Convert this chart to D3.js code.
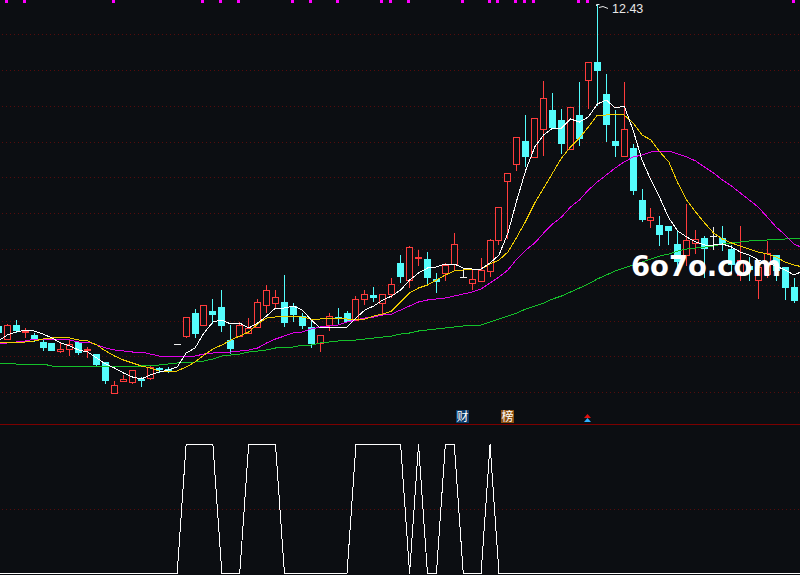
<!DOCTYPE html>
<html lang="en">
<head>
  <meta charset="UTF-8" />
  <title>K-line chart</title>
  <style>
    html, body { margin:0; background:#0c0e12; overflow:hidden; }
    svg { display:block; }
    .ma, .signal { fill:none; shape-rendering:crispEdges; }
  </style>
</head>
<body>
  <svg id="chart" width="800" height="575"></svg>

  <script src="https://d3js.org/d3.v7.min.js"></script>
  <script>
  // candles, index -1 is the one cut off at the left edge
  const opens = [9.21,9.08,9.22,9.15,9.12,9.05,9.04,8.96,8.98,9.05,8.97,8.93,8.85,8.54,8.66,8.65,8.68,8.69,8.79,8.78,9.03,9.11,9.34,9.22,9.36,9.40,9.07,9.11,9.14,9.20,9.42,9.44,9.45,9.41,9.31,9.20,9.04,9.22,9.30,9.34,9.27,9.48,9.52,9.44,9.53,9.84,9.67,9.89,9.88,9.68,9.74,9.83,9.70,9.64,9.66,9.76,10.07,10.66,10.83,11.06,10.90,11.18,11.37,11.27,10.98,11.32,11.67,11.85,11.53,11.06,10.91,10.99,10.47,10.27,10.22,10.21,10.03,9.92,10.04,10.09,10.11,10.09,9.98,9.72,9.81,9.67,9.73,9.92,9.80,9.60];
  const closes = [9.15,9.22,9.17,9.16,9.08,9.00,8.97,8.98,9.03,8.95,8.98,8.83,8.67,8.62,8.68,8.77,8.67,8.80,8.78,8.77,9.03,9.30,9.14,9.42,9.33,9.22,8.99,9.22,9.19,9.45,9.57,9.50,9.25,9.33,9.22,9.04,9.12,9.31,9.29,9.26,9.48,9.53,9.50,9.53,9.63,9.71,10.00,9.90,9.70,9.66,9.82,10.03,9.70,9.68,9.77,10.07,10.40,10.74,11.10,10.91,11.29,11.49,11.20,11.04,11.40,11.09,11.85,11.77,11.23,11.02,11.18,10.57,10.28,10.30,10.13,10.17,9.86,10.07,10.08,9.99,10.11,10.04,9.83,9.87,9.78,9.80,9.94,9.77,9.60,9.47];
  const highs = [9.21,9.23,9.27,9.19,9.14,9.08,9.04,9.04,9.07,9.05,9.00,8.93,8.85,8.66,8.72,8.77,8.70,8.81,8.80,8.80,9.03,9.30,9.38,9.42,9.48,9.57,9.22,9.25,9.29,9.48,9.62,9.57,9.72,9.44,9.34,9.27,9.12,9.34,9.39,9.36,9.51,9.57,9.60,9.53,9.69,9.92,10.01,9.97,9.95,9.74,9.84,10.14,9.78,9.78,9.89,10.08,10.40,10.74,11.10,11.32,11.29,11.66,11.54,11.38,11.40,11.65,11.85,12.43,11.73,11.37,11.65,11.03,10.58,10.39,10.31,10.21,10.17,10.43,10.17,10.11,10.20,10.21,10.02,10.21,9.90,9.80,10.06,9.92,9.80,9.69];
  const lows = [9.15,9.08,9.15,9.10,9.06,8.97,8.97,8.95,8.92,8.93,8.90,8.81,8.64,8.54,8.66,8.64,8.61,8.68,8.75,8.75,9.03,9.10,9.10,9.22,9.24,9.16,8.94,9.11,9.14,9.20,9.35,9.40,9.21,9.26,9.19,9.00,8.96,9.17,9.24,9.26,9.27,9.43,9.46,9.32,9.50,9.65,9.60,9.82,9.64,9.55,9.67,9.78,9.70,9.58,9.66,9.71,10.03,10.09,10.77,10.81,10.90,10.92,11.20,10.94,10.98,11.02,11.39,11.42,11.06,10.91,10.91,10.53,10.26,10.20,10.02,10.03,9.79,9.82,9.94,9.70,9.98,9.97,9.74,9.67,9.67,9.49,9.70,9.67,9.48,9.45];

  // moving averages, one more value than candles (last point is past the right edge)
  const ma5 = [9.06,9.12,9.15,9.17,9.16,9.13,9.09,9.04,9.01,8.97,8.95,8.89,8.83,8.79,8.74,8.70,8.68,8.72,8.75,8.77,8.80,8.94,8.99,9.14,9.25,9.27,9.23,9.24,9.19,9.24,9.31,9.39,9.39,9.41,9.37,9.27,9.19,9.20,9.20,9.20,9.29,9.37,9.41,9.47,9.51,9.57,9.67,9.74,9.79,9.80,9.83,9.83,9.79,9.78,9.78,9.84,9.92,10.14,10.47,10.77,11.00,11.12,11.19,11.19,11.28,11.25,11.30,11.43,11.47,11.39,11.41,11.17,10.87,10.67,10.49,10.29,10.16,10.10,10.05,10.02,10.02,10.03,10.00,9.95,9.92,9.87,9.84,9.81,9.77,9.72,9.76];
  const ma10 = [9.04,9.05,9.05,9.05,9.06,9.08,9.09,9.10,9.09,9.07,9.06,9.02,8.96,8.91,8.87,8.84,8.81,8.79,8.76,8.76,8.76,8.80,8.85,8.92,8.98,9.02,9.07,9.11,9.15,9.23,9.29,9.30,9.31,9.31,9.30,9.28,9.28,9.29,9.29,9.28,9.27,9.28,9.31,9.33,9.36,9.45,9.54,9.59,9.62,9.67,9.72,9.76,9.77,9.78,9.78,9.83,9.87,9.95,10.10,10.26,10.44,10.59,10.74,10.89,11.00,11.09,11.20,11.32,11.32,11.33,11.32,11.24,11.12,11.07,10.95,10.85,10.64,10.47,10.35,10.24,10.14,10.08,10.04,10.01,9.98,9.95,9.93,9.90,9.85,9.82,9.80];
  const ma30 = [9.03,9.04,9.05,9.06,9.08,9.08,9.08,9.08,9.07,9.05,9.05,9.02,8.99,8.97,8.96,8.95,8.95,8.93,8.91,8.91,8.91,8.91,8.91,8.93,8.94,8.95,8.95,8.96,8.97,8.99,9.04,9.08,9.11,9.14,9.15,9.18,9.20,9.21,9.22,9.25,9.27,9.29,9.30,9.32,9.33,9.37,9.41,9.45,9.47,9.48,9.49,9.51,9.53,9.55,9.58,9.64,9.70,9.77,9.88,9.97,10.04,10.14,10.23,10.30,10.40,10.47,10.57,10.65,10.72,10.79,10.85,10.90,10.92,10.95,10.96,10.96,10.93,10.90,10.86,10.80,10.74,10.67,10.61,10.54,10.47,10.40,10.30,10.20,10.12,10.03,9.99];
  const ma60 = [8.84,8.84,8.83,8.83,8.83,8.83,8.81,8.81,8.81,8.81,8.81,8.81,8.81,8.81,8.81,8.81,8.81,8.82,8.82,8.83,8.84,8.85,8.85,8.86,8.88,8.91,8.92,8.93,8.95,8.96,8.97,8.99,9.00,9.00,9.02,9.02,9.04,9.05,9.06,9.07,9.07,9.08,9.09,9.10,9.11,9.13,9.14,9.16,9.17,9.18,9.19,9.20,9.21,9.22,9.22,9.25,9.28,9.31,9.34,9.38,9.41,9.44,9.48,9.51,9.55,9.59,9.63,9.68,9.72,9.76,9.79,9.82,9.85,9.88,9.91,9.93,9.96,9.98,9.99,10.00,10.01,10.03,10.04,10.05,10.06,10.07,10.07,10.08,10.08,10.09,10.09];

  const gridPrices = [12.13,11.77,11.41,11.05,10.70,10.34,9.98,9.62,9.26,8.91,8.55];
  const topMarks = [0,2,12,22,24,26,32,34,37,42,43,45,51,54,55,57,58,59,64,65,88]; // magenta ticks along the top
  const signalOn = [20,21,22,23,27,28,29,30,39,40,41,42,43,44,46,49,50,54]; // lower pane is 1 on these candles

  const maxPrice = "12.43";
  const maxIndex = 66;

  const W = 800, H = 575;
  const C_BG = "#0c0e12", C_UP = "#ff3c3c", C_DOWN = "#54fcfc", C_GRID = "#560c0c";

  const svg = d3.select("#chart");
  const x = d3.scaleLinear().domain([0, 88]).range([7.3, 794]);
  const y = d3.scaleLinear().domain([12.47, 8.23]).range([0, 424]);
  const ySig = d3.scaleLinear().domain([0, 1]).range([573.5, 444.5]);
  const px = i => Math.floor(x(i));
  const py = v => Math.round(y(v));

  svg.append("rect").attr("width", W).attr("height", H).attr("fill", C_BG);

  // dotted price grid
  svg.append("g").selectAll("line").data(gridPrices).join("line")
    .attr("x1", 2).attr("x2", W)
    .attr("y1", d => py(d) + 0.5).attr("y2", d => py(d) + 0.5)
    .attr("stroke", C_GRID).attr("stroke-dasharray", "1 3");

  // pane separator + lower pane grid
  svg.append("line").attr("x1", 0).attr("x2", W).attr("y1", 424.5).attr("y2", 424.5)
    .attr("stroke", "#7c0000");
  svg.append("line").attr("x1", 2).attr("x2", W).attr("y1", 509.5).attr("y2", 509.5)
    .attr("stroke", C_GRID).attr("stroke-dasharray", "1 3");

  // top signal ticks
  svg.append("g").selectAll("rect").data(topMarks).join("rect")
    .attr("x", d => px(d) - 2).attr("y", 0).attr("width", 3).attr("height", 3)
    .attr("fill", "#ff00ff");

  // candles
  const candles = d3.range(opens.length).map(k => ({
    i: k - 1, o: opens[k], c: closes[k], h: highs[k], l: lows[k]
  }));
  const colorOf = d => d.c > d.o ? C_UP : d.c < d.o ? C_DOWN : "#f0f0f0";

  const gc = svg.append("g").attr("shape-rendering", "crispEdges");
  gc.selectAll("line.wick").data(candles).join("line").attr("class", "wick")
    .attr("x1", d => px(d.i) + 0.5).attr("x2", d => px(d.i) + 0.5)
    .attr("y1", d => py(d.h)).attr("y2", d => py(d.l) + 1)
    .attr("stroke", colorOf);
  gc.selectAll("rect.body").data(candles.filter(d => d.c !== d.o)).join("rect").attr("class", "body")
    .attr("x", d => px(d.i) - 2.5)
    .attr("y", d => py(Math.max(d.o, d.c)) + 0.5)
    .attr("width", 6)
    .attr("height", d => Math.max(1, py(Math.min(d.o, d.c)) - py(Math.max(d.o, d.c))))
    .attr("fill", d => d.c > d.o ? C_BG : C_DOWN)
    .attr("stroke", colorOf);
  gc.selectAll("line.flat").data(candles.filter(d => d.c === d.o)).join("line").attr("class", "flat")
    .attr("x1", d => px(d.i) - 3).attr("x2", d => px(d.i) + 4)
    .attr("y1", d => py(d.o) + 0.5).attr("y2", d => py(d.o) + 0.5)
    .attr("stroke", colorOf);

  // moving averages
  const maLine = d3.line().x((d, k) => x(k - 1)).y(d => y(d));
  [[ma60, "#14c02a"], [ma30, "#e000e8"], [ma10, "#f0cc00"], [ma5, "#ffffff"]].forEach(([vals, col]) => {
    svg.append("path").attr("class", "ma").attr("d", maLine(vals)).attr("stroke", col);
  });

  // peak flag
  const peakX = px(maxIndex), peakY = py(12.43);
  svg.append("path").attr("fill", "none").attr("stroke", "#e8e8e8")
    .attr("d", `M${peakX - 0.5},${peakY + 2}V${peakY + 0.5}H${peakX + 2.5}M${peakX + 2},${peakY + 3.5}L${peakX + 6},${peakY + 2.5}L${peakX + 11},${peakY + 4.5}`);
  svg.append("text").attr("x", peakX + 15).attr("y", 13)
    .attr("font-family", "'Liberation Sans', sans-serif").attr("font-size", 12.5)
    .attr("fill", "#e8e8e8").text(maxPrice);

  // event badges
  const badges = [{ x: 456, bg: "#0b3a6a", t: "财" }, { x: 501, bg: "#8a4e10", t: "榜" }];
  badges.forEach(b => {
    svg.append("rect").attr("x", b.x).attr("y", 410).attr("width", 13).attr("height", 13).attr("fill", b.bg);
    svg.append("text").attr("x", b.x + 6.5).attr("y", 421).attr("text-anchor", "middle")
      .attr("font-family", "'Noto Sans CJK SC', sans-serif").attr("font-size", 12)
      .attr("fill", "#ffffff").text(b.t);
  });
  svg.append("path").attr("d", "M584,418L587.5,414L591,418Z").attr("fill", "#e01010");
  svg.append("path").attr("d", "M584,422L587.5,418L591,422Z").attr("fill", "#30b0ff");

  // lower pane on/off line
  const sigVals = d3.range(-1, 90).map(i => signalOn.includes(i) ? 1 : 0);
  const sigLine = d3.line().x((d, k) => x(k - 1)).y(d => ySig(d));
  svg.append("path").attr("class", "signal").attr("d", sigLine(sigVals)).attr("stroke", "#ffffff");

  // watermark
  svg.append("text").attr("x", 631).attr("y", 276)
    .attr("font-family", "'DejaVu Sans', sans-serif").attr("font-weight", "bold").attr("font-size", 28)
    .attr("textLength", 150).attr("lengthAdjust", "spacingAndGlyphs")
    .attr("fill", "#ffffff").text("6o7o.com");
  </script>
</body>
</html>
